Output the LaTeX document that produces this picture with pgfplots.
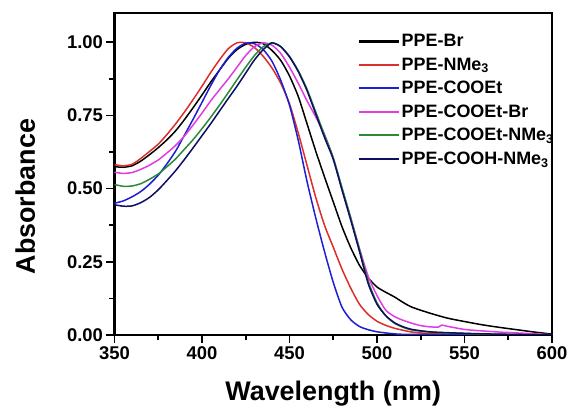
\documentclass[border=0pt]{standalone}
\usepackage{fontspec}
\setmainfont{Liberation Sans}
\usepackage{pgfplots}
\pgfplotsset{compat=1.18}
\usetikzlibrary{calc}
\definecolor{cblack}{HTML}{000000}
\definecolor{cred}{HTML}{DC2E2A}
\definecolor{cblue}{HTML}{1E1ED2}
\definecolor{cmag}{HTML}{E03CE0}
\definecolor{cgreen}{HTML}{2A8A36}
\definecolor{cnavy}{HTML}{0E0E64}

\begin{document}
\begin{tikzpicture}
\begin{axis}[
  scale only axis, width=437.5bp, height=322bp,
  xmin=350, xmax=600, ymin=0, ymax=1.1,
  xtick={350,400,450,500,550,600},
  ytick={0,0.25,0.5,0.75,1.0},
  minor x tick num=1, minor y tick num=1,
  tick pos=left, tick align=outside,
  major tick length=8bp, minor tick length=5bp,
  every tick/.style={black, line width=1.6bp},
  axis line style={line width=2.4bp},
  /pgf/number format/assume math mode=true,
  yticklabel style={/pgf/number format/.cd, fixed, fixed zerofill, precision=2},
  xticklabel style={/pgf/number format/.cd, set thousands separator={}},
  tick label style={font=\fontsize{18.5}{21}\selectfont\bfseries},
  xlabel={Wavelength (nm)}, ylabel={Absorbance},
  label style={font=\fontsize{27}{31}\selectfont\bfseries},
  xlabel style={at={(axis description cs:0.5,-0.202)}, anchor=base},
  ylabel style={at={(axis description cs:-0.182,0.43)}, anchor=base},
  legend style={at={(axis description cs:0.555,0.94)}, anchor=north west,
    draw=none, fill=none, font=\fontsize{18}{21}\selectfont\bfseries,
    row sep=5.5bp, inner sep=0bp},
  legend cell align=left,
  legend image code/.code={\draw[#1, line width=2.2bp] (0bp,0bp) -- (40bp,0bp);},
  every axis plot/.append style={line width=1.5bp, smooth, tension=0.4},
]
\addplot[cblack] coordinates {(350,0.575) (355,0.573) (360,0.578) (365,0.594) (370,0.616) (375,0.640) (380,0.667) (385,0.698) (390,0.736) (395,0.777) (400,0.820) (405,0.864) (410,0.905) (415,0.945) (420,0.975) (425,0.993) (430,1.000) (435,0.995) (440,0.972) (445,0.938) (450,0.885) (455,0.815) (460,0.722) (465,0.628) (470,0.540) (475,0.455) (480,0.370) (485,0.298) (490,0.238) (495,0.195) (500,0.164) (505,0.146) (510,0.130) (515,0.111) (520,0.095) (530,0.075) (540,0.058) (550,0.046) (560,0.035) (570,0.026) (580,0.018) (590,0.010) (600,0.003)};
\addlegendentry{PPE-Br}
\addplot[cred] coordinates {(350,0.582) (355,0.578) (360,0.583) (365,0.603) (370,0.627) (375,0.652) (380,0.685) (385,0.722) (390,0.762) (395,0.805) (400,0.850) (405,0.897) (410,0.940) (415,0.978) (420,0.998) (425,0.998) (430,0.982) (435,0.952) (440,0.912) (445,0.860) (450,0.790) (455,0.690) (460,0.580) (465,0.470) (470,0.375) (475,0.300) (480,0.225) (485,0.160) (490,0.105) (495,0.070) (500,0.047) (505,0.033) (510,0.023) (515,0.016) (520,0.010) (530,0.005) (550,0.002) (600,0.000)};
\addlegendentry{PPE-NMe\textsubscript{3}}
\addplot[cblue] coordinates {(350,0.450) (355,0.458) (360,0.472) (365,0.490) (370,0.515) (375,0.546) (380,0.585) (385,0.629) (390,0.683) (395,0.738) (400,0.795) (405,0.852) (410,0.905) (415,0.948) (420,0.980) (425,0.997) (430,0.995) (435,0.975) (440,0.935) (445,0.870) (450,0.785) (455,0.665) (460,0.525) (465,0.400) (470,0.285) (475,0.180) (480,0.095) (485,0.052) (490,0.029) (495,0.018) (500,0.011) (505,0.007) (510,0.004) (520,0.002) (600,0.000)};
\addlegendentry{PPE-COOEt}
\addplot[cmag] coordinates {(350,0.556) (355,0.552) (360,0.555) (365,0.566) (370,0.580) (375,0.598) (380,0.622) (385,0.648) (390,0.680) (395,0.718) (400,0.758) (405,0.800) (410,0.838) (415,0.875) (420,0.915) (425,0.955) (430,0.985) (435,0.998) (440,0.990) (445,0.962) (450,0.915) (455,0.860) (460,0.800) (465,0.745) (470,0.685) (475,0.605) (480,0.500) (485,0.400) (490,0.295) (495,0.200) (500,0.135) (505,0.085) (510,0.063) (515,0.050) (520,0.040) (525,0.032) (530,0.028) (535,0.027) (537,0.034) (540,0.030) (550,0.019) (560,0.014) (570,0.010) (580,0.007) (590,0.004) (600,0.001)};
\addlegendentry{PPE-COOEt-Br}
\addplot[cgreen] coordinates {(350,0.514) (355,0.508) (360,0.509) (365,0.517) (370,0.532) (375,0.550) (380,0.575) (385,0.602) (390,0.635) (395,0.668) (400,0.705) (405,0.744) (410,0.785) (415,0.828) (420,0.872) (425,0.915) (430,0.955) (435,0.985) (440,0.998) (445,0.985) (450,0.952) (455,0.903) (460,0.840) (465,0.762) (470,0.683) (475,0.605) (480,0.503) (485,0.400) (490,0.292) (495,0.183) (500,0.110) (505,0.066) (510,0.040) (515,0.026) (520,0.017) (530,0.010) (540,0.007) (560,0.003) (580,0.001) (600,0.000)};
\addlegendentry{PPE-COOEt-NMe\textsubscript{3}}
\addplot[cnavy] coordinates {(350,0.445) (355,0.440) (360,0.441) (365,0.452) (370,0.470) (375,0.496) (380,0.528) (385,0.562) (390,0.600) (395,0.640) (400,0.681) (405,0.722) (410,0.765) (415,0.808) (420,0.850) (425,0.895) (430,0.940) (435,0.975) (440,0.998) (445,0.985) (450,0.950) (455,0.900) (460,0.835) (465,0.755) (470,0.675) (475,0.600) (480,0.495) (485,0.392) (490,0.285) (495,0.175) (500,0.105) (505,0.066) (510,0.042) (515,0.028) (520,0.019) (530,0.011) (540,0.008) (560,0.004) (580,0.002) (600,0.000)};
\addlegendentry{PPE-COOH-NMe\textsubscript{3}}
\end{axis}
\pgfresetboundingbox
\path ($(current axis.south west)+(-114.5bp,-75bp)$) rectangle ($(current axis.north east)+(17bp,13bp)$);
\end{tikzpicture}
\end{document}
